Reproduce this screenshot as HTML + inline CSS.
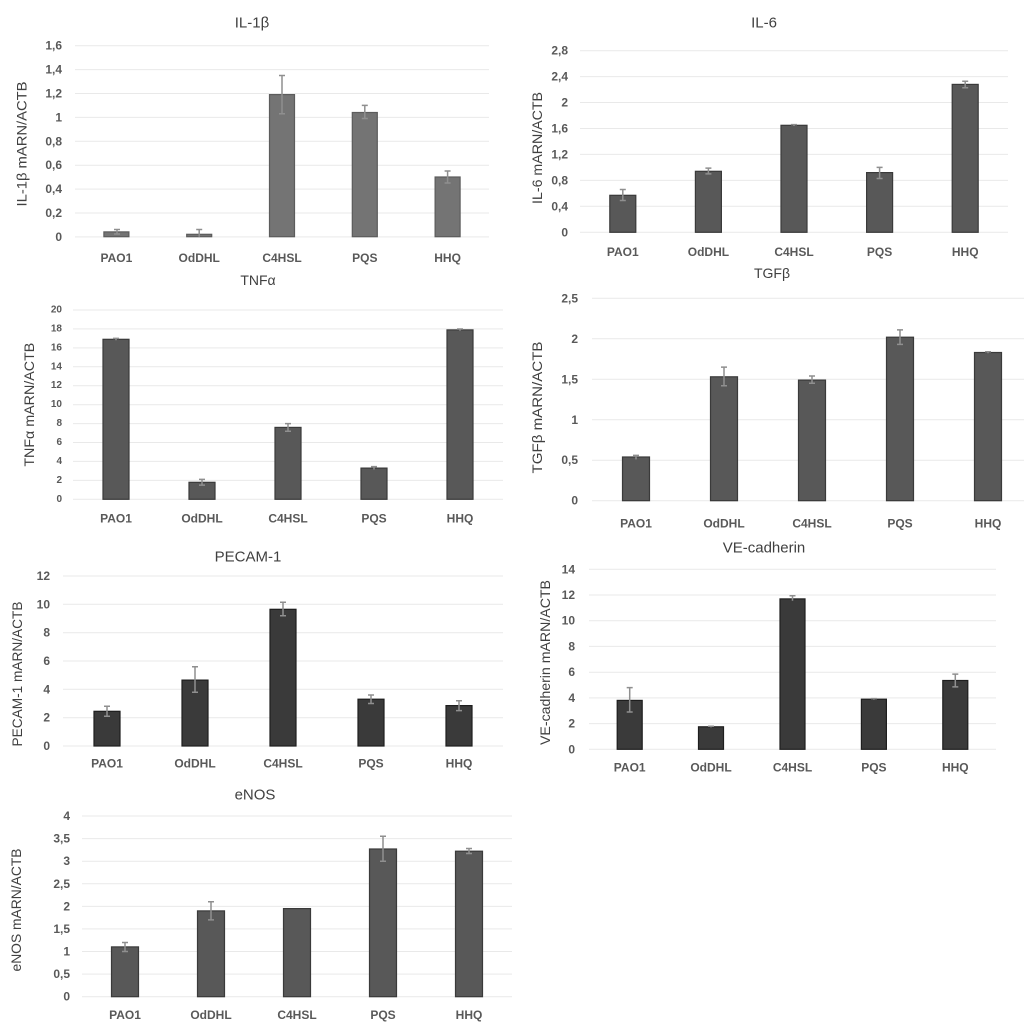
<!DOCTYPE html>
<html><head><meta charset="utf-8"><style>
html,body{margin:0;padding:0;background:#fff;}
svg{display:block;font-family:"Liberation Sans",sans-serif;}
.g{stroke:#e9e9e9;stroke-width:1;}
.t{font-size:12px;font-weight:bold;fill:#595959;text-anchor:end;dominant-baseline:central;}
.t3{font-size:10px;font-weight:bold;fill:#595959;text-anchor:end;dominant-baseline:central;}
.x{font-size:12px;font-weight:bold;fill:#595959;text-anchor:middle;dominant-baseline:central;}
.h{font-size:15px;fill:#404040;text-anchor:middle;dominant-baseline:central;}
.a{font-size:14px;fill:#404040;text-anchor:middle;dominant-baseline:central;}
.b1{fill:#747474;stroke:#5c5c5c;stroke-width:1.2;}
.b2{fill:#585858;stroke:#3a3a3a;stroke-width:1.2;}
.b3{fill:#3a3a3a;stroke:#1e1e1e;stroke-width:1.2;}
.e{stroke:#8f8f8f;stroke-width:1.5;fill:none;}
</style></head><body>
<svg width="1024" height="1024" viewBox="0 0 1024 1024" xmlns="http://www.w3.org/2000/svg">

<!-- Panel 1 IL-1β -->
<g>
<line class="g" x1="75" x2="489" y1="45.7" y2="45.7"/><line class="g" x1="75" x2="489" y1="69.6" y2="69.6"/><line class="g" x1="75" x2="489" y1="93.5" y2="93.5"/><line class="g" x1="75" x2="489" y1="117.4" y2="117.4"/><line class="g" x1="75" x2="489" y1="141.3" y2="141.3"/><line class="g" x1="75" x2="489" y1="165.2" y2="165.2"/><line class="g" x1="75" x2="489" y1="189.1" y2="189.1"/><line class="g" x1="75" x2="489" y1="213" y2="213"/><line class="g" x1="75" x2="489" y1="236.9" y2="236.9"/>
<text class="t" x="62" y="45.7">1,6</text><text class="t" x="62" y="69.6">1,4</text><text class="t" x="62" y="93.5">1,2</text><text class="t" x="62" y="117.4">1</text><text class="t" x="62" y="141.3">0,8</text><text class="t" x="62" y="165.2">0,6</text><text class="t" x="62" y="189.1">0,4</text><text class="t" x="62" y="213">0,2</text><text class="t" x="62" y="236.9">0</text>
<rect class="b1" x="103.9" y="231.9" width="25" height="4.8"/>
<rect class="b1" x="186.7" y="234.3" width="25" height="2.4"/>
<rect class="b1" x="269.5" y="94.6" width="25" height="142.1"/>
<rect class="b1" x="352.3" y="112.5" width="25" height="124.2"/>
<rect class="b1" x="435.1" y="177" width="25" height="59.7"/>
<path class="e" d="M117 229.5V234M114 229.5H120M114 234H120"/>
<path class="e" d="M199.2 229.5V236.7M196.2 229.5H202.2"/>
<path class="e" d="M282 75.5V113.7M279 75.5H285M279 113.7H285"/>
<path class="e" d="M364.8 105.4V118.5M361.8 105.4H367.8M361.8 118.5H367.8"/>
<path class="e" d="M447.6 171V183M444.6 171H450.6M444.6 183H450.6"/>
<text class="x" x="116.4" y="258">PAO1</text><text class="x" x="199.2" y="258">OdDHL</text><text class="x" x="282" y="258">C4HSL</text><text class="x" x="364.8" y="258">PQS</text><text class="x" x="447.6" y="258">HHQ</text>
<text class="h" x="252" y="23">IL-1β</text>
<text class="a" transform="translate(21.7 144) rotate(-90)" textLength="125" lengthAdjust="spacingAndGlyphs">IL-1β mARN/ACTB</text>
</g>

<!-- Panel 2 IL-6 -->
<g>
<line class="g" x1="580" x2="1008" y1="50.7" y2="50.7"/><line class="g" x1="580" x2="1008" y1="76.6" y2="76.6"/><line class="g" x1="580" x2="1008" y1="102.5" y2="102.5"/><line class="g" x1="580" x2="1008" y1="128.5" y2="128.5"/><line class="g" x1="580" x2="1008" y1="154.4" y2="154.4"/><line class="g" x1="580" x2="1008" y1="180.4" y2="180.4"/><line class="g" x1="580" x2="1008" y1="206.3" y2="206.3"/><line class="g" x1="580" x2="1008" y1="232.3" y2="232.3"/>
<text class="t" x="568" y="50.7">2,8</text><text class="t" x="568" y="76.6">2,4</text><text class="t" x="568" y="102.5">2</text><text class="t" x="568" y="128.5">1,6</text><text class="t" x="568" y="154.4">1,2</text><text class="t" x="568" y="180.4">0,8</text><text class="t" x="568" y="206.3">0,4</text><text class="t" x="568" y="232.3">0</text>
<rect class="b2" x="609.8" y="195.3" width="26" height="37"/>
<rect class="b2" x="695.4" y="171.3" width="26" height="61"/>
<rect class="b2" x="781" y="125.3" width="26" height="107"/>
<rect class="b2" x="866.6" y="172.6" width="26" height="59.7"/>
<rect class="b2" x="952.2" y="84.4" width="26" height="147.9"/>
<path class="e" d="M622.8 189.5V200.5M619.8 189.5H625.8M619.8 200.5H625.8"/>
<path class="e" d="M708.4 168.1V173.9M705.4 168.1H711.4M705.4 173.9H711.4"/>
<path class="e" d="M794 124.6V126M791 124.6H797"/>
<path class="e" d="M879.6 167.4V178.5M876.6 167.4H882.6M876.6 178.5H882.6"/>
<path class="e" d="M965.2 81.2V87.7M962.2 81.2H968.2M962.2 87.7H968.2"/>
<text class="x" x="622.8" y="252">PAO1</text><text class="x" x="708.4" y="252">OdDHL</text><text class="x" x="794" y="252">C4HSL</text><text class="x" x="879.6" y="252">PQS</text><text class="x" x="965.2" y="252">HHQ</text>
<text class="h" x="764" y="23">IL-6</text>
<text class="a" transform="translate(537 148) rotate(-90)" textLength="112" lengthAdjust="spacingAndGlyphs">IL-6 mARN/ACTB</text>
</g>

<!-- Panel 3 TNFα -->
<g>
<line class="g" x1="73" x2="503" y1="310" y2="310"/><line class="g" x1="73" x2="503" y1="328.9" y2="328.9"/><line class="g" x1="73" x2="503" y1="347.9" y2="347.9"/><line class="g" x1="73" x2="503" y1="366.8" y2="366.8"/><line class="g" x1="73" x2="503" y1="385.7" y2="385.7"/><line class="g" x1="73" x2="503" y1="404.7" y2="404.7"/><line class="g" x1="73" x2="503" y1="423.6" y2="423.6"/><line class="g" x1="73" x2="503" y1="442.5" y2="442.5"/><line class="g" x1="73" x2="503" y1="461.4" y2="461.4"/><line class="g" x1="73" x2="503" y1="480.4" y2="480.4"/><line class="g" x1="73" x2="503" y1="499.3" y2="499.3"/>
<text class="t3" x="62" y="310">20</text><text class="t3" x="62" y="328.9">18</text><text class="t3" x="62" y="347.9">16</text><text class="t3" x="62" y="366.8">14</text><text class="t3" x="62" y="385.7">12</text><text class="t3" x="62" y="404.7">10</text><text class="t3" x="62" y="423.6">8</text><text class="t3" x="62" y="442.5">6</text><text class="t3" x="62" y="461.4">4</text><text class="t3" x="62" y="480.4">2</text><text class="t3" x="62" y="499.3">0</text>
<rect class="b2" x="103" y="339.3" width="26" height="160"/>
<rect class="b2" x="189" y="482.3" width="26" height="17"/>
<rect class="b2" x="275" y="427.4" width="26" height="71.9"/>
<rect class="b2" x="361" y="468.1" width="26" height="31.2"/>
<rect class="b2" x="447" y="329.9" width="26" height="169.4"/>
<path class="e" d="M116 338.4V340.2M113 338.4H119"/>
<path class="e" d="M202 479.4V485.1M199 479.4H205M199 485.1H205"/>
<path class="e" d="M288 423.6V431.2M285 423.6H291M285 431.2H291"/>
<path class="e" d="M374 466.6V469.5M371 466.6H377"/>
<path class="e" d="M460 329V330.8M457 329H463"/>
<text class="x" x="116" y="518.3">PAO1</text><text class="x" x="202" y="518.3">OdDHL</text><text class="x" x="288" y="518.3">C4HSL</text><text class="x" x="374" y="518.3">PQS</text><text class="x" x="460" y="518.3">HHQ</text>
<text class="h" x="258" y="280" style="font-size:14px">TNFα</text>
<text class="a" transform="translate(29 404.7) rotate(-90)" textLength="124" lengthAdjust="spacingAndGlyphs">TNFα mARN/ACTB</text>
</g>

<!-- Panel 4 TGFβ -->
<g>
<line class="g" x1="592" x2="1024" y1="298.3" y2="298.3"/><line class="g" x1="592" x2="1024" y1="338.8" y2="338.8"/><line class="g" x1="592" x2="1024" y1="379.3" y2="379.3"/><line class="g" x1="592" x2="1024" y1="419.8" y2="419.8"/><line class="g" x1="592" x2="1024" y1="460.2" y2="460.2"/><line class="g" x1="592" x2="1024" y1="500.7" y2="500.7"/>
<text class="t" x="578" y="298.3">2,5</text><text class="t" x="578" y="338.8">2</text><text class="t" x="578" y="379.3">1,5</text><text class="t" x="578" y="419.8">1</text><text class="t" x="578" y="460.2">0,5</text><text class="t" x="578" y="500.7">0</text>
<rect class="b2" x="622.5" y="457" width="27" height="43.7"/>
<rect class="b2" x="710.5" y="376.8" width="27" height="123.9"/>
<rect class="b2" x="798.5" y="380.1" width="27" height="120.6"/>
<rect class="b2" x="886.5" y="337.2" width="27" height="163.5"/>
<rect class="b2" x="974.5" y="352.5" width="27" height="148.2"/>
<path class="e" d="M636 455.4V459.4M633 455.4H639"/>
<path class="e" d="M724 367.1V385.7M721 367.1H727M721 385.7H727"/>
<path class="e" d="M812 376V383.3M809 376H815M809 383.3H815"/>
<path class="e" d="M900 329.9V344.4M897 329.9H903M897 344.4H903"/>
<path class="e" d="M988 351.7V353.3M985 351.7H991"/>
<text class="x" x="636" y="523.3">PAO1</text><text class="x" x="724" y="523.3">OdDHL</text><text class="x" x="812" y="523.3">C4HSL</text><text class="x" x="900" y="523.3">PQS</text><text class="x" x="988" y="523.3">HHQ</text>
<text class="h" x="772" y="273" style="font-size:14px">TGFβ</text>
<text class="a" transform="translate(537 407.5) rotate(-90)" textLength="132" lengthAdjust="spacingAndGlyphs">TGFβ mARN/ACTB</text>
</g>

<!-- Panel 5 PECAM-1 -->
<g>
<line class="g" x1="63" x2="503" y1="576" y2="576"/><line class="g" x1="63" x2="503" y1="604.3" y2="604.3"/><line class="g" x1="63" x2="503" y1="632.7" y2="632.7"/><line class="g" x1="63" x2="503" y1="661" y2="661"/><line class="g" x1="63" x2="503" y1="689.3" y2="689.3"/><line class="g" x1="63" x2="503" y1="717.7" y2="717.7"/><line class="g" x1="63" x2="503" y1="746" y2="746"/>
<text class="t" x="50" y="576">12</text><text class="t" x="50" y="604.3">10</text><text class="t" x="50" y="632.7">8</text><text class="t" x="50" y="661">6</text><text class="t" x="50" y="689.3">4</text><text class="t" x="50" y="717.7">2</text><text class="t" x="50" y="746">0</text>
<rect class="b3" x="94" y="711.3" width="26" height="34.7"/>
<rect class="b3" x="182" y="680.1" width="26" height="65.9"/>
<rect class="b3" x="270" y="609.3" width="26" height="136.7"/>
<rect class="b3" x="358" y="699.2" width="26" height="46.8"/>
<rect class="b3" x="446" y="705.6" width="26" height="40.4"/>
<path class="e" d="M107 706.3V716.3M104 706.3H110M104 716.3H110"/>
<path class="e" d="M195 666.7V692.2M192 666.7H198M192 692.2H198"/>
<path class="e" d="M283 602.2V615.7M280 602.2H286M280 615.7H286"/>
<path class="e" d="M371 695V703.5M368 695H374M368 703.5H374"/>
<path class="e" d="M459 700.7V710.6M456 700.7H462M456 710.6H462"/>
<text class="x" x="107" y="763.3">PAO1</text><text class="x" x="195" y="763.3">OdDHL</text><text class="x" x="283" y="763.3">C4HSL</text><text class="x" x="371" y="763.3">PQS</text><text class="x" x="459" y="763.3">HHQ</text>
<text class="h" x="248" y="557">PECAM-1</text>
<text class="a" transform="translate(17 674) rotate(-90)" textLength="145" lengthAdjust="spacingAndGlyphs">PECAM-1 mARN/ACTB</text>
</g>

<!-- Panel 6 VE-cadherin -->
<g>
<line class="g" x1="589" x2="996" y1="569.3" y2="569.3"/><line class="g" x1="589" x2="996" y1="595" y2="595"/><line class="g" x1="589" x2="996" y1="620.7" y2="620.7"/><line class="g" x1="589" x2="996" y1="646.4" y2="646.4"/><line class="g" x1="589" x2="996" y1="672.2" y2="672.2"/><line class="g" x1="589" x2="996" y1="697.9" y2="697.9"/><line class="g" x1="589" x2="996" y1="723.6" y2="723.6"/><line class="g" x1="589" x2="996" y1="749.3" y2="749.3"/>
<text class="t" x="575" y="569.3">14</text><text class="t" x="575" y="595">12</text><text class="t" x="575" y="620.7">10</text><text class="t" x="575" y="646.4">8</text><text class="t" x="575" y="672.2">6</text><text class="t" x="575" y="697.9">4</text><text class="t" x="575" y="723.6">2</text><text class="t" x="575" y="749.3">0</text>
<rect class="b3" x="617.2" y="700.4" width="25" height="48.9"/>
<rect class="b3" x="698.5" y="726.8" width="25" height="22.5"/>
<rect class="b3" x="780" y="598.9" width="25" height="150.4"/>
<rect class="b3" x="861.4" y="699.2" width="25" height="50.1"/>
<rect class="b3" x="942.8" y="680.5" width="25" height="68.8"/>
<path class="e" d="M629.7 687.6V712M626.7 687.6H632.7M626.7 712H632.7"/>
<path class="e" d="M711 726.2V727.4M708 726.2H714"/>
<path class="e" d="M792.5 595.7V600.8M789.5 595.7H795.5"/>
<path class="e" d="M873.9 698.6V699.8M870.9 698.6H876.9"/>
<path class="e" d="M955.3 674.1V686.9M952.3 674.1H958.3M952.3 686.9H958.3"/>
<text class="x" x="629.7" y="767.3">PAO1</text><text class="x" x="711" y="767.3">OdDHL</text><text class="x" x="792.5" y="767.3">C4HSL</text><text class="x" x="873.9" y="767.3">PQS</text><text class="x" x="955.3" y="767.3">HHQ</text>
<text class="h" x="764" y="548">VE-cadherin</text>
<text class="a" transform="translate(545 662.5) rotate(-90)" textLength="165" lengthAdjust="spacingAndGlyphs">VE-cadherin mARN/ACTB</text>
</g>

<!-- Panel 7 eNOS -->
<g>
<line class="g" x1="82" x2="512" y1="816" y2="816"/><line class="g" x1="82" x2="512" y1="838.6" y2="838.6"/><line class="g" x1="82" x2="512" y1="861.2" y2="861.2"/><line class="g" x1="82" x2="512" y1="883.8" y2="883.8"/><line class="g" x1="82" x2="512" y1="906.4" y2="906.4"/><line class="g" x1="82" x2="512" y1="928.9" y2="928.9"/><line class="g" x1="82" x2="512" y1="951.5" y2="951.5"/><line class="g" x1="82" x2="512" y1="974.1" y2="974.1"/><line class="g" x1="82" x2="512" y1="996.7" y2="996.7"/>
<text class="t" x="70" y="816">4</text><text class="t" x="70" y="838.6">3,5</text><text class="t" x="70" y="861.2">3</text><text class="t" x="70" y="883.8">2,5</text><text class="t" x="70" y="906.4">2</text><text class="t" x="70" y="928.9">1,5</text><text class="t" x="70" y="951.5">1</text><text class="t" x="70" y="974.1">0,5</text><text class="t" x="70" y="996.7">0</text>
<rect class="b2" x="111.5" y="946.9" width="27" height="49.8"/>
<rect class="b2" x="197.5" y="910.9" width="27" height="85.8"/>
<rect class="b2" x="283.5" y="908.6" width="27" height="88.1"/>
<rect class="b2" x="369.5" y="849" width="27" height="147.7"/>
<rect class="b2" x="455.5" y="851.2" width="27" height="145.5"/>
<path class="e" d="M125 942.5V951.5M122 942.5H128M122 951.5H128"/>
<path class="e" d="M211 901.8V919.9M208 901.8H214M208 919.9H214"/>
<path class="e" d="M383 836.3V861.2M380 836.3H386M380 861.2H386"/>
<path class="e" d="M469 848.5V853.5M466 848.5H472M466 853.5H472"/>
<text class="x" x="125" y="1015">PAO1</text><text class="x" x="211" y="1015">OdDHL</text><text class="x" x="297" y="1015">C4HSL</text><text class="x" x="383" y="1015">PQS</text><text class="x" x="469" y="1015">HHQ</text>
<text class="h" x="255" y="795">eNOS</text>
<text class="a" transform="translate(16 910) rotate(-90)" textLength="123" lengthAdjust="spacingAndGlyphs">eNOS mARN/ACTB</text>
</g>
</svg>
</body></html>
